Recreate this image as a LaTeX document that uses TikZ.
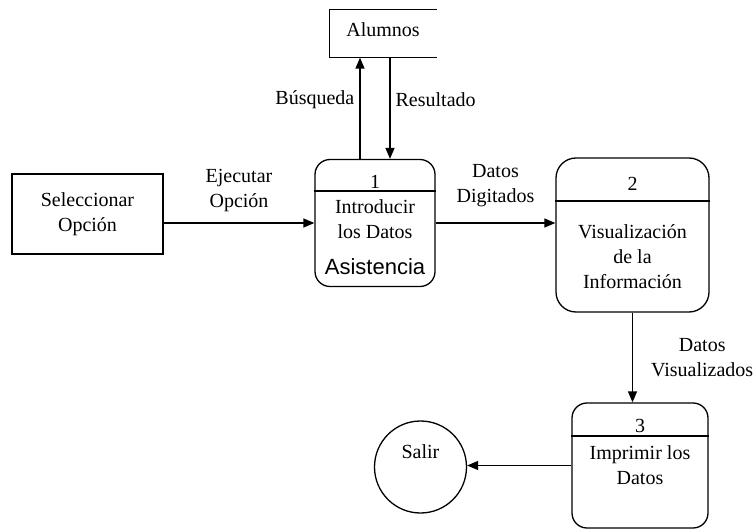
\documentclass[tikz,border=0pt]{standalone}
\usepackage{fontspec}
\setmainfont{Liberation Serif}
\newfontfamily\asisfont{Liberation Sans}
\usetikzlibrary{arrows.meta}

\begin{document}
\begin{tikzpicture}[x=1pt,y=-1pt,line width=1.3pt,
  every node/.style={font=\fontsize{20}{25}\selectfont, align=center, inner sep=0pt},
  proc/.style={draw, rounded corners=15pt},
  flow/.style={-{Triangle[length=11pt,width=9pt]}}]
\useasboundingbox (0,0) rectangle (755,529);
% Entities
\node[draw, minimum width=151pt, minimum height=80pt] (sel) at (87.5,214) {Seleccionar\\Opción};
\node[minimum width=106pt, minimum height=47pt] (alum) at (383,33.5) {};
\node (alumtxt) at (383,30) {Alumnos};
\draw (alum.north east) -- (alum.north west) -- (alum.south west) -- (alum.south east);
\node[draw, circle, minimum size=92pt] (salir) at (420.5,467) {};
\node (salirtxt) at (420.5,452) {Salir};
% Processes
\node[proc, minimum width=120pt, minimum height=127pt] (p1) at (375,223) {};
\node (n1) at (375,182) {1};
\draw (p1.west |- 0,191) -- (p1.east |- 0,191);
\node (t1) at (375,219) {Introducir\\los Datos};
\node[font=\asisfont\fontsize{22}{26}\selectfont] (a1) at (375,267) {Asistencia};
\node[proc, rounded corners=20pt, minimum width=153pt, minimum height=154pt] (p2) at (632.5,235) {};
\node (n2) at (632.5,184) {2};
\draw (p2.west |- 0,201) -- (p2.east |- 0,201);
\node (t2) at (632.5,257) {Visualización\\de la\\Información};
\node[proc, minimum width=136pt, minimum height=125pt] (p3) at (640,465.5) {};
\node (n3) at (640,426) {3};
\draw (p3.west |- 0,436) -- (p3.east |- 0,436);
\node (t3) at (640,465) {Imprimir los\\Datos};
% Flows
\draw[flow] (sel.east |- p1.west) -- node[above=11pt] {Ejecutar\\Opción} (p1.west);
\draw[flow] (p1.east) -- node[above=16pt] {Datos\\Digitados} (p1.east -| p2.west);
\draw[flow] ([xshift=-15pt]p1.north) -- node[left=5pt, pos=0.58] {Búsqueda} ([xshift=-15pt]p1.north |- alum.south);
\draw[flow] ([xshift=15pt]p1.north |- alum.south) -- node[right=5pt, pos=0.42] {Resultado} ([xshift=15pt]p1.north);
\draw[flow] (p2.south) -- node[right=18pt] {Datos\\Visualizados} (p2.south |- p3.north);
\draw[flow] (p3.west) -- (p3.west -| salir.east);
\end{tikzpicture}
\end{document}
